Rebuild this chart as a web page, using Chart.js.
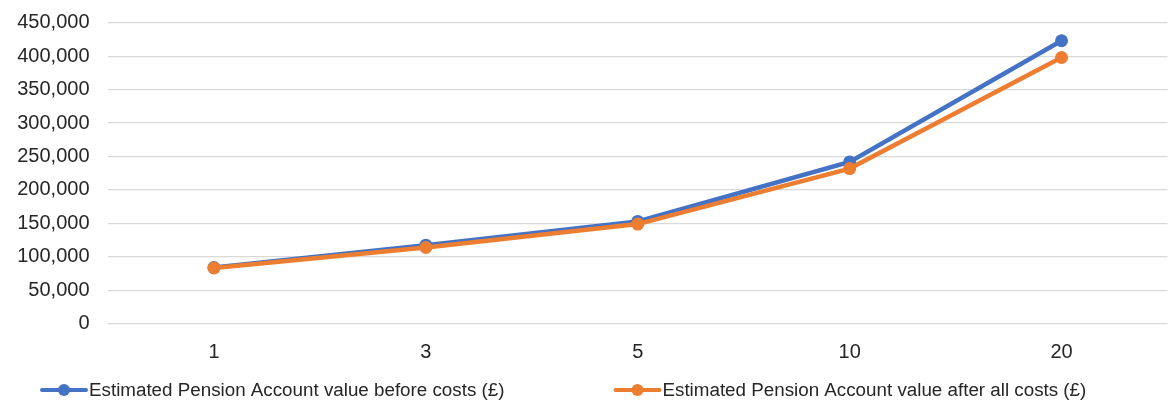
<!DOCTYPE html>
<html>
<head>
<meta charset="utf-8">
<script src="https://cdn.jsdelivr.net/npm/chart.js@4/dist/chart.umd.min.js"></script>
<style>
  html, body { margin: 0; padding: 0; background: #ffffff; overflow: hidden; }
  #wrap { width: 1174px; height: 406px; position: relative; }
</style>
</head>
<body>
<div id="wrap"><canvas id="chart"></canvas></div>
<script>
// Years in the projection
const categories = ['1', '3', '5', '10', '20'];
// Estimated pension pot, before and after charges (£)
const beforeCosts = [84000, 117500, 153000, 242000, 423000];
const afterCosts = [83500, 114000, 149000, 232000, 398000];
const seriesNames = [
  'Estimated Pension Account value before costs (£)',
  'Estimated Pension Account value after all costs (£)'
];
const yTicks = [0, 50000, 100000, 150000, 200000, 250000, 300000, 350000, 400000, 450000];

const BLUE = '#4472C4';
const ORANGE = '#ED7D31';
const TEXT = '#262626';
const FONT = '"Liberation Sans", Arial, sans-serif';
const TICK_FS = 20;
const LEGEND_FS = 18.8;

// Bottom legend: line-with-dot swatch followed by the series name
const lineLegend = {
  id: 'lineLegend',
  afterDraw(chart) {
    const ctx = chart.ctx;
    const swatchLen = 48;
    const textGap = 1;
    const itemGap = 109;
    const cy = 390;
    let x = 40;
    ctx.save();
    ctx.font = LEGEND_FS + 'px ' + FONT;
    ctx.textBaseline = 'middle';
    ctx.textAlign = 'left';
    chart.data.datasets.forEach(ds => {
      ctx.strokeStyle = ds.borderColor;
      ctx.lineWidth = 4;
      ctx.lineCap = 'round';
      ctx.beginPath();
      ctx.moveTo(x + 2, cy);
      ctx.lineTo(x + swatchLen - 2, cy);
      ctx.stroke();
      ctx.fillStyle = ds.borderColor;
      ctx.beginPath();
      ctx.arc(x + swatchLen / 2, cy, 6, 0, Math.PI * 2);
      ctx.fill();
      ctx.fillStyle = TEXT;
      const tx = x + swatchLen + textGap;
      ctx.fillText(ds.label, tx, cy + 1);
      x = tx + ctx.measureText(ds.label).width + itemGap;
    });
    ctx.restore();
  }
};

Chart.defaults.font.family = FONT;
Chart.defaults.color = TEXT;

new Chart(document.getElementById('chart'), {
  type: 'line',
  data: {
    labels: categories,
    datasets: [
      {
        label: seriesNames[0],
        data: beforeCosts,
        order: 1,
        borderColor: BLUE,
        backgroundColor: BLUE,
        borderWidth: 4.5,
        pointRadius: 6.5,
        pointHoverRadius: 6.5,
        pointBorderWidth: 0,
        tension: 0
      },
      {
        label: seriesNames[1],
        data: afterCosts,
        order: 0,
        borderColor: ORANGE,
        backgroundColor: ORANGE,
        borderWidth: 4.5,
        pointRadius: 6.5,
        pointHoverRadius: 6.5,
        pointBorderWidth: 0,
        tension: 0
      }
    ]
  },
  options: {
    responsive: true,
    maintainAspectRatio: false,
    animation: false,
    layout: { padding: { top: 22.7, right: 0, left: 0, bottom: 24.2 } },
    plugins: {
      tooltip: { enabled: false },
      legend: { display: false }
    },
    scales: {
      x: {
        offset: true,
        grid: { display: false, drawTicks: false },
        border: { display: false },
        ticks: { padding: 17, color: TEXT, font: { size: TICK_FS } }
      },
      y: {
        min: 0,
        max: 450000,
        afterBuildTicks(axis) {
          axis.ticks = yTicks.map(v => ({ value: v }));
        },
        afterFit(axis) {
          axis.width = 108;
          axis.paddingTop = 0;
          axis.paddingBottom = 0;
        },
        grid: { color: '#d9d9d9', lineWidth: 1.3, drawTicks: false },
        border: { display: false },
        ticks: {
          padding: 18.5,
          autoSkip: false,
          color: TEXT,
          font: { size: TICK_FS },
          callback: v => v.toLocaleString('en-US')
        }
      }
    }
  },
  plugins: [lineLegend]
});
</script>
</body>
</html>
